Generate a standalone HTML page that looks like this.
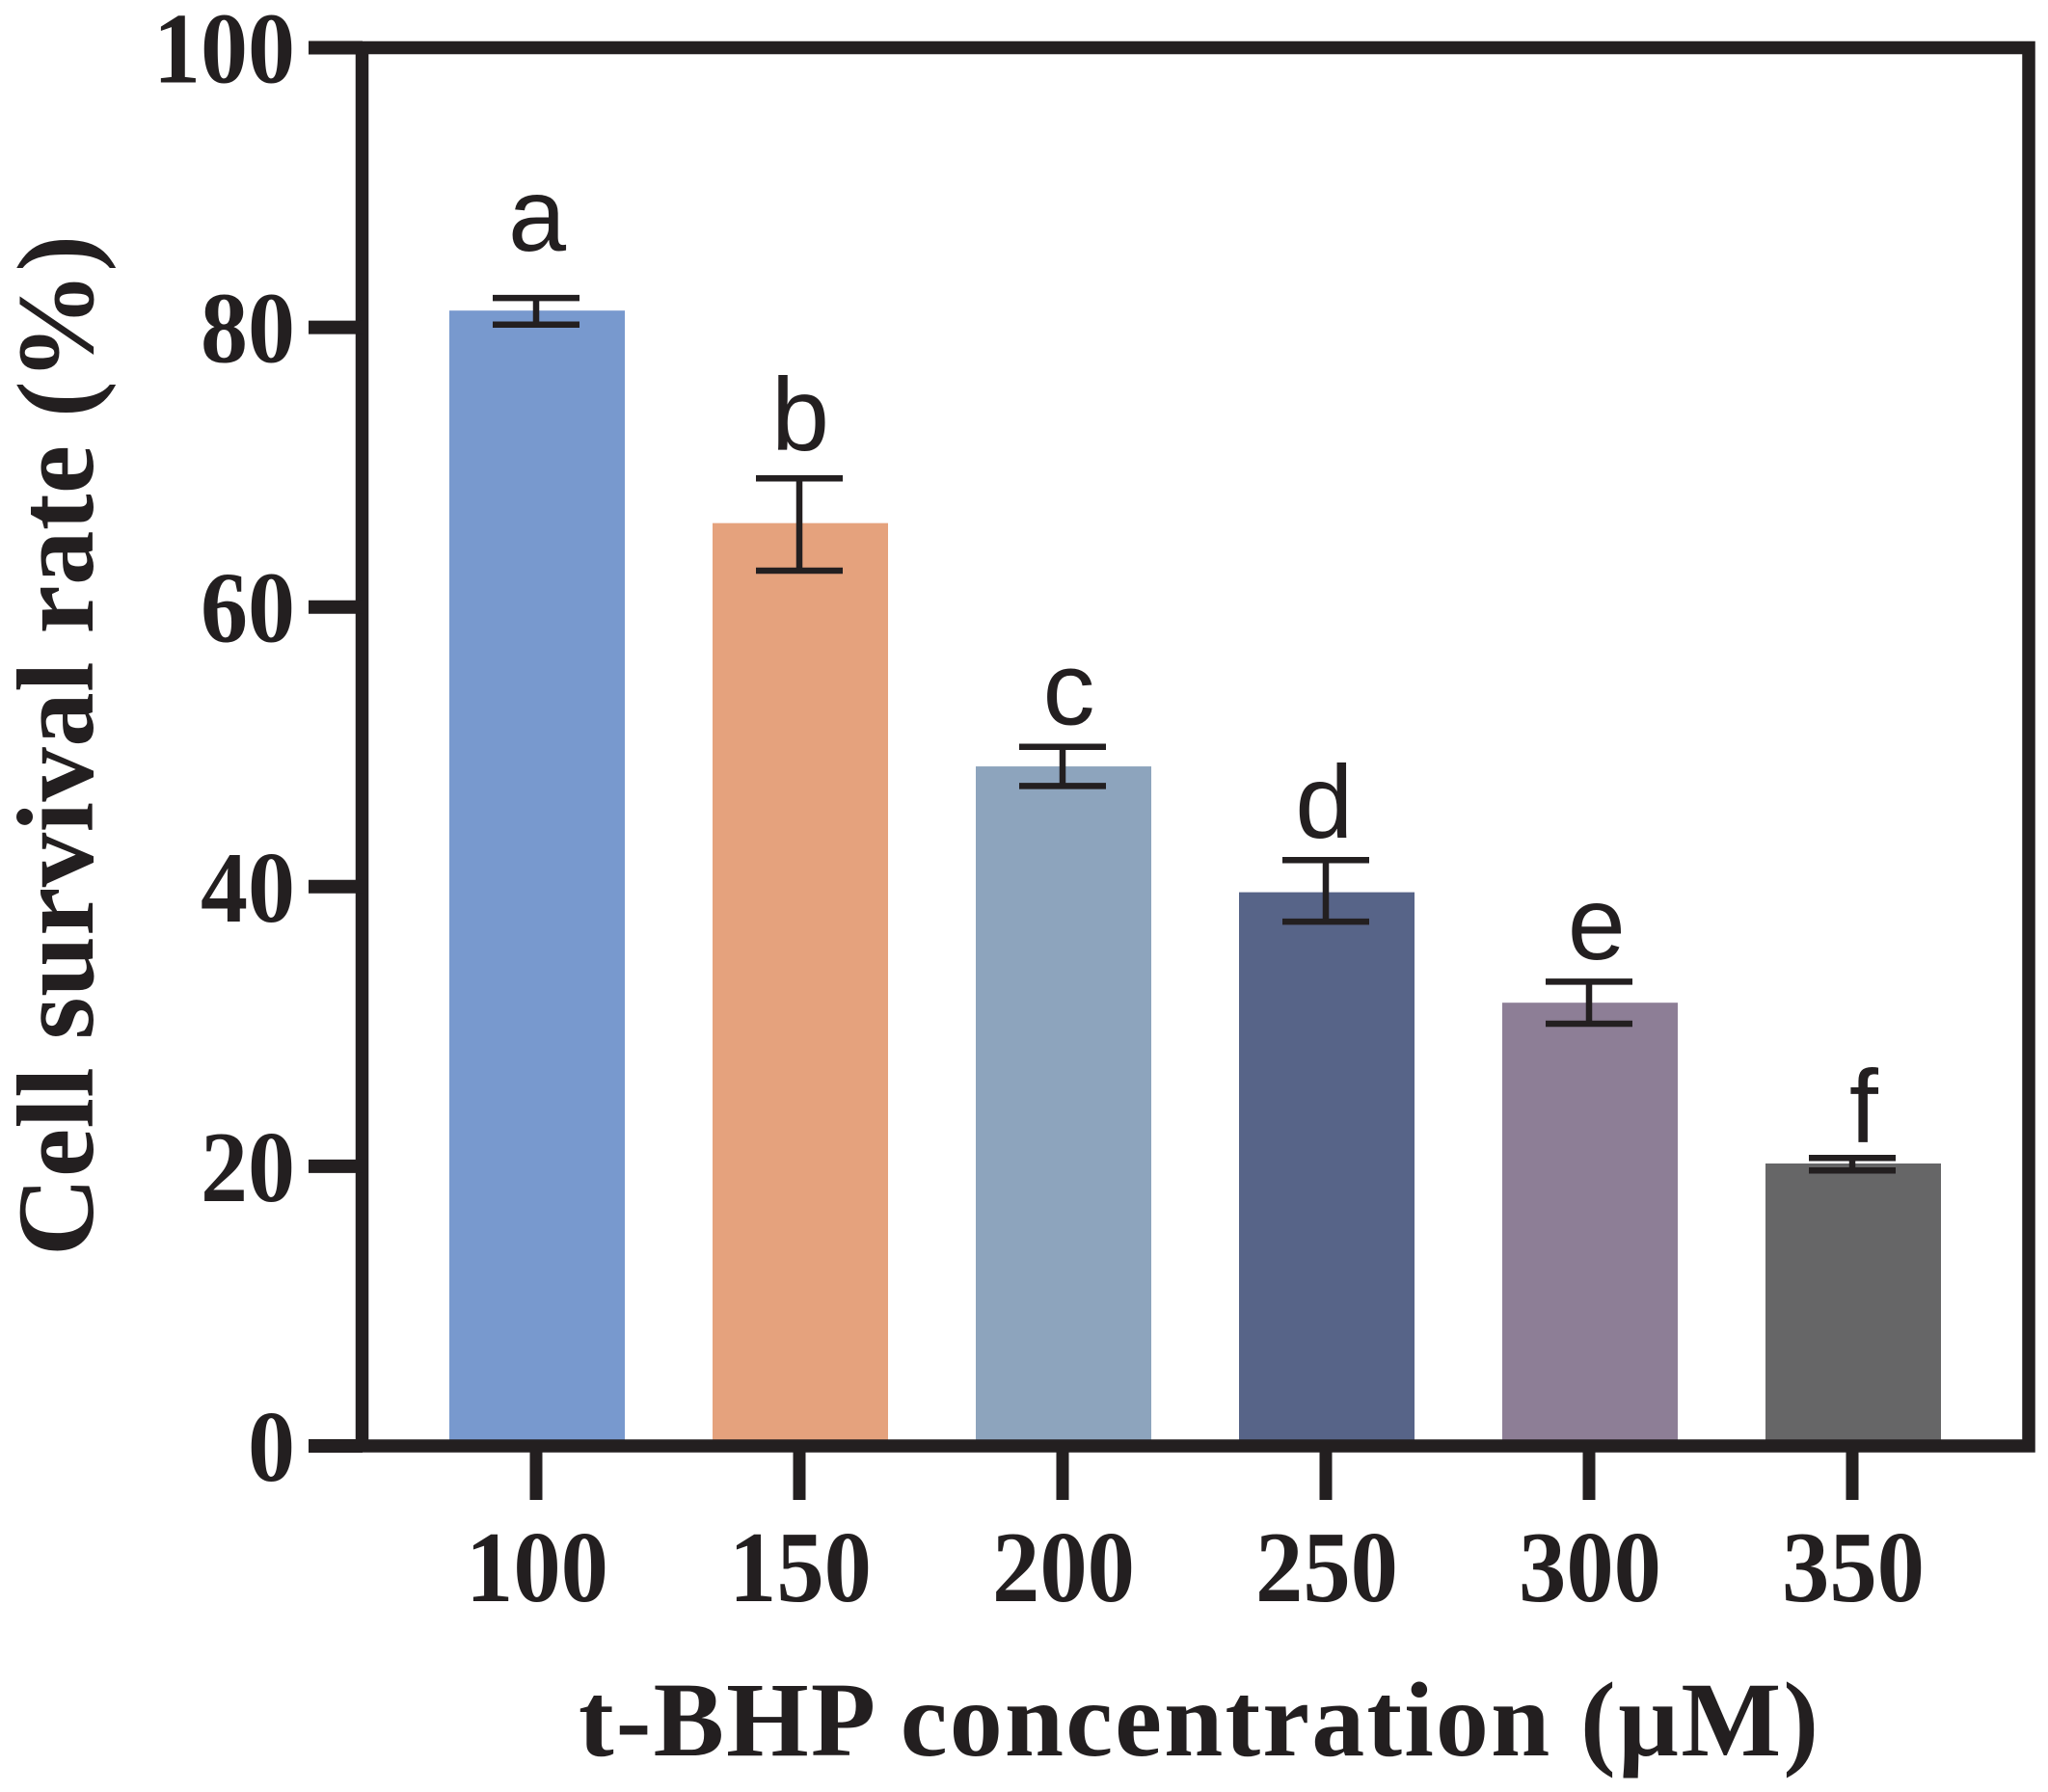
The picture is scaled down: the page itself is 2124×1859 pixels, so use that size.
<!DOCTYPE html>
<html lang="en">
<head>
<meta charset="utf-8">
<title>Cell survival rate vs t-BHP concentration</title>
<style>
html,body{margin:0;padding:0;background:#fff;}
svg{display:block;}
text{fill:#231f20;}
.serif{font-family:"Liberation Serif",serif;font-weight:700;}
.sans{font-family:"Liberation Sans",sans-serif;font-weight:400;}
</style>
</head>
<body>
<svg id="chart" xmlns="http://www.w3.org/2000/svg" width="2124" height="1859" viewBox="0 0 2124 1859">
  <rect x="0" y="0" width="2124" height="1859" fill="#ffffff"/>
  <g id="bars"></g>
  <rect x="375.5" y="49.5" width="1728.5" height="1450.5" fill="none" stroke="#231f20" stroke-width="13.5"/>
  <g id="axes"></g>
  <g id="errors"></g>
  <g id="letters"></g>
  <text class="serif" x="600" y="1821" font-size="110" textLength="1286" lengthAdjust="spacing">t-BHP concentration (µM)</text>
  <text class="serif" transform="translate(96 1303) rotate(-90)" x="0" y="0" font-size="113" textLength="1059" lengthAdjust="spacing">Cell survival rate (%)</text>
</svg>
<script>
const categories = ["100", "150", "200", "250", "300", "350"];
const survivalValues = [81.2, 66.0, 48.6, 39.6, 31.7, 20.2];
const errorUpper = [82.1, 69.2, 50.0, 41.9, 33.2, 20.6];
const errorLower = [80.2, 62.6, 47.2, 37.5, 30.2, 19.7];
const barColors = ["#7899ce", "#e5a27d", "#8da4bd", "#576488", "#8d7e96", "#666667"];
const yTickLabels = [0, 20, 40, 60, 80, 100];
const groupLetters = ["a", "b", "c", "d", "e", "f"];
const letterLevels = [85.5, 71.2, 51.6, 43.5, 34.8, 21.7];
const letterNudges = [0, 0, 0.02, -0.01, 0.025, 0.04];

const NS = "http://www.w3.org/2000/svg";
const yScale = v => 1500 - v * 14.505;
const xScale = i => 557 + 273 * i;
const barWidth = 182;
const capWidth = 90;
const ink = "#231f20";

function make(tag, parent, attrs, text) {
  const el = document.createElementNS(NS, tag);
  for (const k in attrs) el.setAttribute(k, attrs[k]);
  if (text !== undefined) el.textContent = text;
  parent.appendChild(el);
  return el;
}

const barsG = document.getElementById("bars");
const axesG = document.getElementById("axes");
const errorsG = document.getElementById("errors");
const lettersG = document.getElementById("letters");

categories.forEach((cat, i) => {
  const cx = xScale(i);
  const top = yScale(survivalValues[i]);
  const bar = make("rect", barsG, {x: cx - barWidth / 2, y: top, width: barWidth, height: yScale(0) - top, fill: barColors[i]});
  
  

  const hi = yScale(errorUpper[i]);
  const lo = yScale(errorLower[i]);
  const ex = cx - 1;
  const stem = make("line", errorsG, {x1: ex, x2: ex, y1: hi, y2: lo, stroke: ink, "stroke-width": 6.5});
  
  
  const capTop = make("line", errorsG, {x1: ex - capWidth / 2, x2: ex + capWidth / 2, y1: hi, y2: hi, stroke: ink, "stroke-width": 6.5});
  
  
  const capLow = make("line", errorsG, {x1: ex - capWidth / 2, x2: ex + capWidth / 2, y1: lo, y2: lo, stroke: ink, "stroke-width": 6.5});
  
  

  const letter = make("text", lettersG, {x: cx + letterNudges[i] * 273, y: yScale(letterLevels[i]), "text-anchor": "middle", "font-size": 108, class: "sans"}, groupLetters[i]);
  
  

  const tick = make("line", axesG, {x1: cx - 1, x2: cx - 1, y1: 1500, y2: 1556, stroke: ink, "stroke-width": 13});
  
  
  const label = make("text", axesG, {x: cx, y: 1661, "text-anchor": "middle", "font-size": 105, textLength: 148, lengthAdjust: "spacingAndGlyphs", class: "serif"}, cat);
  
  
});

yTickLabels.forEach(v => {
  const y = yScale(v);
  const tick = make("line", axesG, {x1: 320, x2: 376, y1: y, y2: y, stroke: ink, "stroke-width": 14});
  
  
  const s = String(v);
  const label = make("text", axesG, {x: 306, y: y + 36, "text-anchor": "end", "font-size": 105, textLength: 49 * s.length, lengthAdjust: "spacingAndGlyphs", class: "serif"}, s);
  
  
});
</script>
</body>
</html>
